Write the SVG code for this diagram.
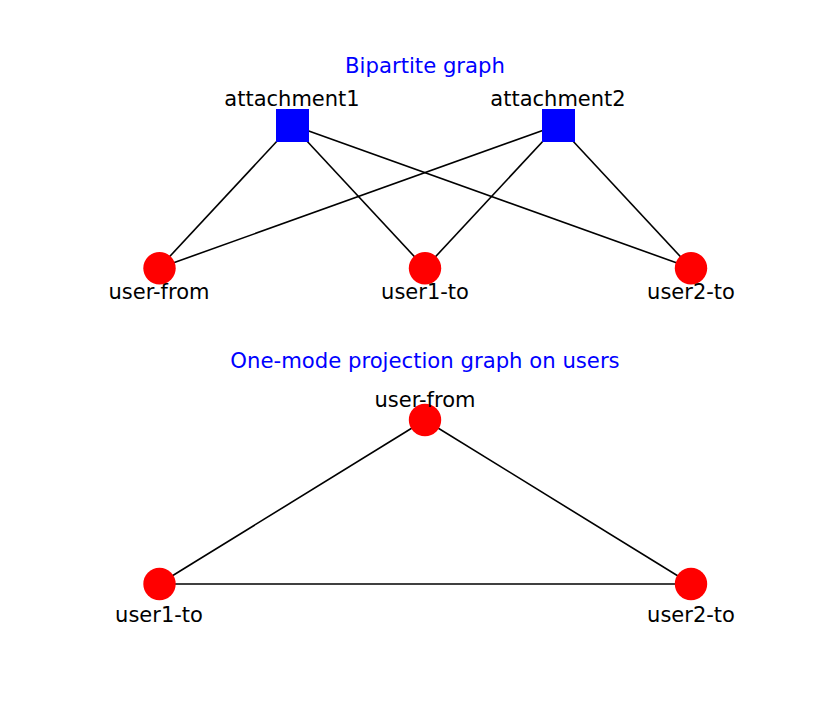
<svg xmlns="http://www.w3.org/2000/svg" width="830" height="703" viewBox="0 0 830 703">
<style>
.t{font-family:"DejaVu Sans",sans-serif;font-size:21.2px;fill:#0000ff;text-anchor:middle}
.l{font-family:"DejaVu Sans",sans-serif;font-size:21px;fill:#000;text-anchor:middle}
.e{stroke:#000;stroke-width:1.6;fill:none}
.u{fill:#ff0000}
.a{fill:#0000ff}
</style>
<rect width="830" height="703" fill="#fff"/>
<text class="t" x="425" y="73">Bipartite graph</text>
<text class="t" x="425" y="368">One-mode projection graph on users</text>
<g id="edges" class="e">
<line x1="292" y1="125" x2="159" y2="268"/>
<line x1="292" y1="125" x2="425" y2="268"/>
<line x1="292" y1="125" x2="691" y2="268"/>
<line x1="558" y1="125" x2="159" y2="268"/>
<line x1="558" y1="125" x2="425" y2="268"/>
<line x1="558" y1="125" x2="691" y2="268"/>
<line x1="425" y1="420" x2="159" y2="584"/>
<line x1="425" y1="420" x2="691" y2="584"/>
<line x1="159" y1="584" x2="691" y2="584"/>
</g>
<g id="attachment1"><rect class="a" x="276" y="109" width="33" height="33"/><text class="l" x="292" y="106">attachment1</text></g>
<g id="attachment2"><rect class="a" x="542" y="109" width="33" height="33"/><text class="l" x="558" y="106">attachment2</text></g>
<g id="b-user-from"><circle class="u" cx="159.5" cy="268.3" r="16.2"/><text class="l" x="159" y="299">user-from</text></g>
<g id="b-user1-to"><circle class="u" cx="425" cy="268.3" r="16.2"/><text class="l" x="425" y="299">user1-to</text></g>
<g id="b-user2-to"><circle class="u" cx="691" cy="268.3" r="16.2"/><text class="l" x="691" y="299">user2-to</text></g>
<g id="p-user-from"><circle class="u" cx="425" cy="420" r="16.2"/><text class="l" x="425" y="407">user-from</text></g>
<g id="p-user1-to"><circle class="u" cx="159.5" cy="584" r="16.2"/><text class="l" x="159" y="622">user1-to</text></g>
<g id="p-user2-to"><circle class="u" cx="691" cy="584" r="16.2"/><text class="l" x="691" y="622">user2-to</text></g>
</svg>
